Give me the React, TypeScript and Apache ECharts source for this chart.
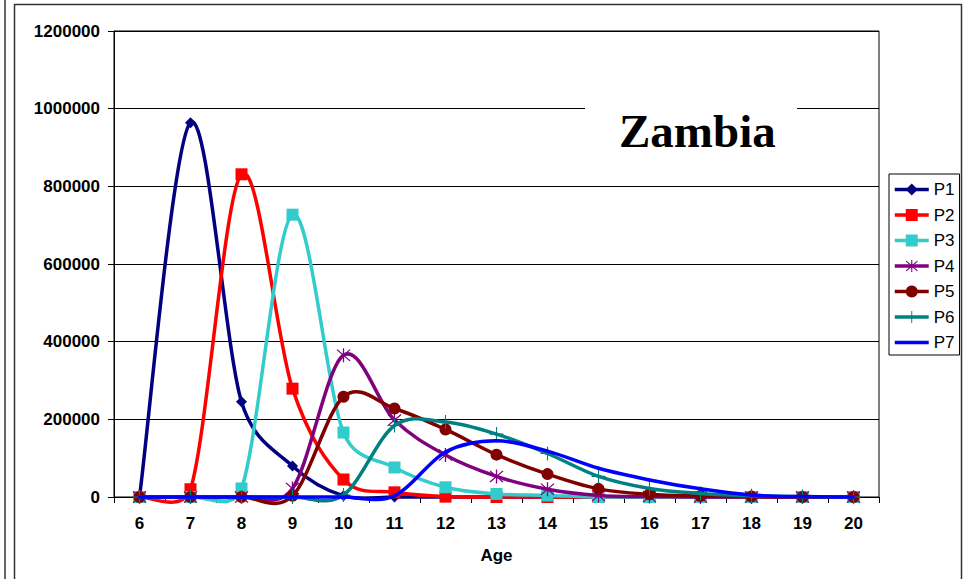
import React, { useEffect, useRef } from "react";
import * as echarts from "echarts";

const categories = ["6", "7", "8", "9", "10", "11", "12", "13", "14", "15", "16", "17", "18", "19", "20"];
const seriesNames = ["P1", "P2", "P3", "P4", "P5", "P6", "P7"];
const p1 = [0, 964000, 245000, 80000, 3000, 0, 0, 0, 0, 0, 0, 0, 0, 0, 0];
const p2 = [0, 20000, 831000, 279000, 45000, 12000, 1000, 0, 0, 0, 0, 0, 0, 0, 0];
const p3 = [0, 0, 22000, 727000, 166000, 76000, 25000, 8000, 4000, 0, 0, 0, 0, 0, 0];
const p4 = [0, 0, 0, 22000, 365000, 198000, 108000, 53000, 20000, 4000, 1000, 0, 0, 0, 0];
const p5 = [0, 0, 0, 3000, 258000, 228000, 174000, 109000, 59000, 21000, 7000, 2500, 1000, 0, 0];
const p6 = [0, 0, 0, 0, 5000, 184000, 193000, 162000, 112000, 53000, 22000, 9000, 3000, 1000, 0];
const p7 = [0, 0, 0, 0, 0, 3000, 116000, 145000, 118000, 74000, 44000, 21000, 5000, 1000, 0];
const yTicks = { min: 0, max: 1200000, interval: 200000 };

const colors = ["#000080", "#FF0000", "#33CCCC", "#800080", "#800000", "#008080", "#0000FF"];

const ASTERISK =
  "path://M9.2 0L10.8 0L10.8 20L9.2 20Z M2.566 1.434L18.566 17.434L17.434 18.566L1.434 2.566Z M18.566 2.566L2.566 18.566L1.434 17.434L17.434 1.434Z";
const PLUS = "path://M9.2 0L10.8 0L10.8 20L9.2 20Z M0 9.2L20 9.2L20 10.8L0 10.8Z";
const PLAIN_LINE_ICON = "path://M0 0L34 0L34 3.5L0 3.5Z";

const symbols: any[] = ["diamond", "rect", "rect", ASTERISK, "circle", PLUS, "none"];
const symbolSizes = [11, 12, 12, 14, 12, 14, 0];

const FONT = "Liberation Sans";
const LINE_W = 3.5;
const TENSION = 1 / 6;

export default function App() {
  const ref = useRef<HTMLDivElement>(null);
  useEffect(() => {
    if (!ref.current) return;
    const chart = echarts.init(ref.current, null, { renderer: "svg" });
    const allData = [p1, p2, p3, p4, p5, p6, p7];
    const series: any[] = [];
    allData.forEach((arr, s) => {
      const n = arr.length;
      // Excel-style smoothed line: Catmull-Rom bezier with control arms limited to half the segment
      series.push({
        name: seriesNames[s] + " curve",
        type: "custom",
        coordinateSystem: "cartesian2d",
        data: arr.map((v, j) => [j, v]),
        encode: { x: 0, y: 1 },
        clip: false,
        silent: true,
        z: 2 + s * 0.1,
        renderItem: (params: any, api: any) => {
          const i = params.dataIndex;
          if (i >= n - 1) return null;
          const pt = (j: number) => {
            const k = Math.max(0, Math.min(n - 1, j));
            return api.coord([k, arr[k]]);
          };
          const dist = (p: number[], q: number[]) => Math.hypot(q[0] - p[0], q[1] - p[1]);
          const a = pt(i - 1);
          const b = pt(i);
          const c = pt(i + 1);
          const d = pt(i + 2);
          const d12 = dist(b, c);
          const d02 = dist(a, c);
          const d13 = dist(b, d);
          const f1 = d02 * TENSION > d12 / 2 ? d12 / (2 * d02) : TENSION;
          const f2 = d13 * TENSION > d12 / 2 ? d12 / (2 * d13) : TENSION;
          return {
            type: "bezierCurve",
            shape: {
              x1: b[0],
              y1: b[1],
              x2: c[0],
              y2: c[1],
              cpx1: b[0] + (c[0] - a[0]) * f1,
              cpy1: b[1] + (c[1] - a[1]) * f1,
              cpx2: c[0] - (d[0] - b[0]) * f2,
              cpy2: c[1] - (d[1] - b[1]) * f2,
            },
            style: { stroke: colors[s], lineWidth: LINE_W, fill: null, lineCap: "round" },
          };
        },
      });
      series.push({
        name: seriesNames[s],
        type: "line",
        data: arr,
        symbol: symbols[s],
        symbolSize: symbolSizes[s],
        showSymbol: symbols[s] !== "none",
        lineStyle: { color: colors[s], width: LINE_W, opacity: 0 },
        itemStyle: { color: colors[s], borderColor: colors[s], borderWidth: 0 },
        z: 2 + s * 0.1 + 0.05,
      });
    });
    const option: any = {
      animation: false,
      color: colors,
      grid: {
        left: 114,
        top: 31,
        right: 86,
        bottom: 82,
        show: true,
        borderColor: "#000",
        borderWidth: 1,
        backgroundColor: "transparent",
      },
      xAxis: {
        type: "category",
        data: categories,
        boundaryGap: true,
        axisLine: { lineStyle: { color: "#000", width: 1 } },
        axisTick: { show: true, alignWithLabel: false, length: 6, lineStyle: { color: "#000" } },
        axisLabel: { color: "#000", fontWeight: "bold", fontSize: 17, fontFamily: FONT, margin: 18 },
        name: "Age",
        nameLocation: "middle",
        nameGap: 50,
        nameTextStyle: { color: "#000", fontWeight: "bold", fontSize: 17, fontFamily: FONT },
      },
      yAxis: {
        type: "value",
        min: yTicks.min,
        max: yTicks.max,
        interval: yTicks.interval,
        axisLine: { show: true, lineStyle: { color: "#000", width: 1 } },
        axisTick: { show: true, length: 6, lineStyle: { color: "#000" } },
        axisLabel: {
          color: "#000",
          fontWeight: "bold",
          fontSize: 17,
          fontFamily: FONT,
          margin: 14,
          formatter: (v: number) => String(v),
        },
        splitLine: { lineStyle: { color: "#000", width: 1 } },
      },
      legend: {
        data: seriesNames.map((nm, i) =>
          symbols[i] === "none"
            ? { name: nm, icon: PLAIN_LINE_ICON, itemStyle: { color: colors[i], opacity: 1 } }
            : {
                name: nm,
                lineStyle: { color: colors[i], width: LINE_W, opacity: 1 },
                itemStyle: { color: colors[i], opacity: 1 },
              }
        ),
        orient: "vertical",
        left: 889,
        top: 174,
        itemWidth: 34,
        itemHeight: 15,
        itemGap: 8.5,
        padding: [7, 5, 4, 4],
        borderColor: "#000",
        borderWidth: 1,
        backgroundColor: "#fff",
        selectedMode: false,
        symbolKeepAspect: true,
        textStyle: { fontSize: 17, fontFamily: FONT, color: "#000", lineHeight: 17 },
      },
      graphic: [
        {
          type: "line",
          shape: { x1: 5, y1: 0, x2: 5, y2: 579 },
          style: { stroke: "#333", lineWidth: 1.5 },
          silent: true,
        },
        {
          type: "rect",
          shape: { x: 14.5, y: 4.5, width: 947, height: 600 },
          style: { fill: "none", stroke: "#333", lineWidth: 1.5 },
          silent: true,
        },
        {
          type: "rect",
          shape: { x: 585, y: 92, width: 212, height: 70 },
          style: { fill: "#fff" },
          z: 5,
          silent: true,
        },
        {
          type: "text",
          x: 619,
          y: 131,
          z: 6,
          style: {
            text: "Zambia",
            font: 'bold 47px "Liberation Serif"',
            fill: "#000",
            verticalAlign: "middle",
          },
          silent: true,
        },
      ],
      series,
    };
    chart.setOption(option);
    return () => chart.dispose();
  }, []);
  return (
    <div
      ref={ref}
      style={{ position: "absolute", left: 0, top: 0, width: 965, height: 579, background: "#fff" }}
    />
  );
}
